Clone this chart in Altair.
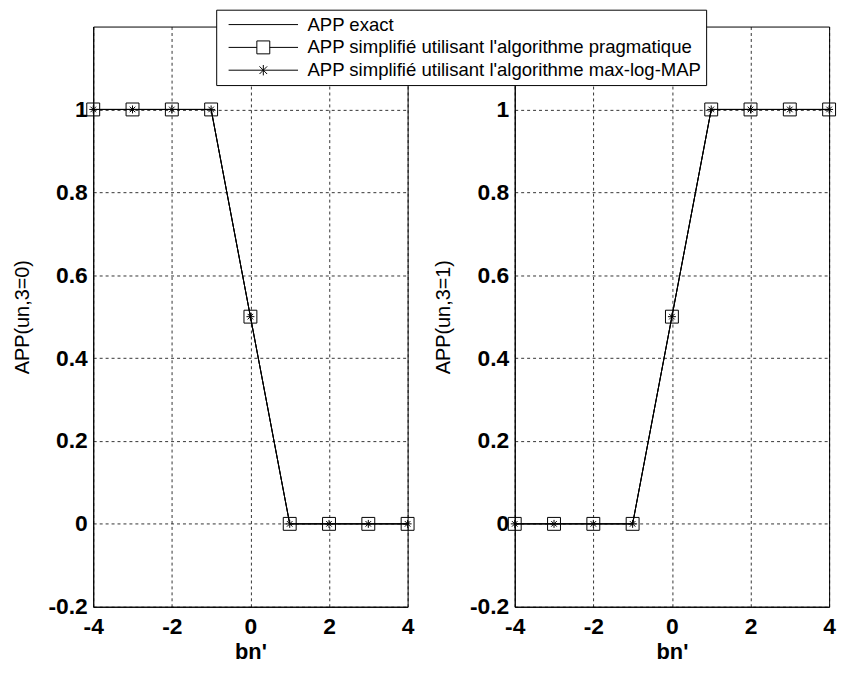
import altair as alt
import pandas as pd

# ---- data ----
bn = [-4, -3, -2, -1, 0, 1, 2, 3, 4]
exact_u0 = [1, 1, 1, 1, 0.5, 0, 0, 0, 0]
prag_u0 = [1, 1, 1, 1, 0.5, 0, 0, 0, 0]
maxlog_u0 = [1, 1, 1, 1, 0.5, 0, 0, 0, 0]
exact_u1 = [0, 0, 0, 0, 0.5, 1, 1, 1, 1]
prag_u1 = [0, 0, 0, 0, 0.5, 1, 1, 1, 1]
maxlog_u1 = [0, 0, 0, 0, 0.5, 1, 1, 1, 1]
series = [
    "APP exact",
    "APP simplifié utilisant l'algorithme pragmatique",
    "APP simplifié utilisant l'algorithme max-log-MAP",
]
x_ticks = [-4, -2, 0, 2, 4]
y_ticks = [-0.2, 0, 0.2, 0.4, 0.6, 0.8, 1]

rows = []
for s, a_list, b_list in zip(series, [exact_u0, prag_u0, maxlog_u0], [exact_u1, prag_u1, maxlog_u1]):
    for x, a, b in zip(bn, a_list, b_list):
        rows.append({"bn": x, "series": s, "u0": a, "u1": b})
df = pd.DataFrame(rows)

FONT = "Liberation Sans"
STAR = "M-1,0H1M0,-1V1M-0.7,-0.7L0.7,0.7M-0.7,0.7L0.7,-0.7"
LEG_LINE = "M-1,0H1"
LEG_SQ = "M-1,0H-0.186M0.186,0H1M-0.186,-0.186H0.186V0.186H-0.186Z"
LEG_STAR = "M-1,0H1M0,-0.15V0.15M-0.11,-0.11L0.11,0.11M-0.11,0.11L0.11,-0.11"

W, H = 317, 585


def panel(field, ytitle, with_legend):
    base = alt.Chart(df).encode(
        x=alt.X("bn:Q", scale=alt.Scale(domain=[-4, 4], nice=False, zero=False),
                axis=alt.Axis(values=x_ticks, title="bn'", labelExpr="toString(datum.value)")),
        y=alt.Y(f"{field}:Q", scale=alt.Scale(domain=[-0.2, 1.2], nice=False, zero=False),
                axis=alt.Axis(values=y_ticks, title=ytitle, labelExpr="toString(datum.value)")),
    )
    line = base.mark_line(color="black", strokeWidth=1).encode(detail="series:N")
    sq = base.mark_point(shape="square", size=169, color="black", strokeWidth=1, filled=False,
                         opacity=1).transform_filter(alt.datum.series == series[1])
    st = base.mark_point(shape=STAR, size=64, color="black", strokeWidth=1, filled=False,
                         opacity=1).transform_filter(alt.datum.series == series[2])
    layers = [line, sq, st]
    if with_legend:
        leg = base.mark_point(color="black", filled=False, opacity=1).encode(
            shape=alt.Shape("series:N",
                            scale=alt.Scale(domain=series, range=[LEG_LINE, LEG_SQ, LEG_STAR]),
                            legend=alt.Legend(
                                orient="none", legendX=-301, legendY=-17, title=None,
                                symbolSize=4900, clipHeight=22, rowPadding=1, padding=4,
                                symbolOffset=8, labelOffset=9,
                                strokeColor="black", fillColor="white", cornerRadius=0,
                                symbolStrokeColor="black", symbolFillColor="transparent",
                                symbolStrokeWidth=1, symbolOpacity=1,
                                labelFont=FONT, labelFontSize=18.7,
                                labelColor="black", labelLimit=1000, zindex=5,
                            ))
        ).transform_filter("false")
        layers.append(leg)
    return alt.layer(*layers).properties(width=W, height=H)


left = panel("u0", "APP(un,3=0)", False)
right = panel("u1", "APP(un,3=1)", True)

chart = (
    alt.hconcat(left, right, spacing=108, bounds="flush")
    .resolve_legend(shape="independent")
    .properties(padding={"left": 11, "top": 6, "right": 5, "bottom": 5}, background="white")
    .configure_view(stroke="black", strokeWidth=1)
    .configure_axis(
        grid=True, gridColor="black", gridDash=[3, 3], gridWidth=0.8,
        domainColor="black", ticks=False, labelFont=FONT, labelFontSize=23,
        labelFontWeight="bold", labelColor="black", titleColor="black", titleFont=FONT,
        labelFlush=False, labelOverlap=False,
    )
    .configure_axisX(labelPadding=9, titleFontSize=22, titleFontWeight="bold", titlePadding=3)
    .configure_axisY(labelPadding=6, titleFontSize=20, titleFontWeight="normal", titlePadding=16)
)

chart.save("out.html", embed_options={"renderer": "svg", "actions": False})
